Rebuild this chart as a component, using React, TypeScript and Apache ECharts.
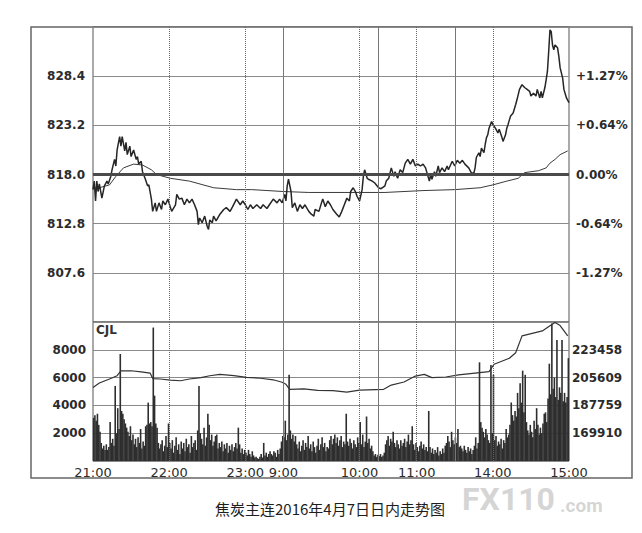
import React, { useEffect, useRef } from "react";
import * as echarts from "echarts";

// minutes since 21:00 (trading minutes: 21:00-23:30, 9:00-10:15, 10:30-11:30, 13:30-15:00)
const timeTicks = [0, 60, 120, 150, 210, 255, 315, 375];
const timeLabels = ["21:00", "22:00", "23:00", "9:00", "10:00", "11:00", "14:00", "15:00"];
const dottedMarks = [60, 120, 210, 255, 315];
const solidMarks = [150, 225, 285];

const PREV_SETTLE = 818.0;
const priceMin = 802.4;
const priceMax = 833.6;
const priceStep = 5.2;

const pricePoints: [number, number][] = [
  [0, 816.4], [1, 817.3], [2, 815.2], [3, 817.3], [4, 816.2], [5, 817.0], [7, 815.5], [9, 816.8],
  [11, 817.3], [12, 817.0], [14, 817.8], [15, 818.5], [17, 819.6], [18, 818.9], [19, 820.6], [21, 822.0],
  [22, 821.0], [23, 822.0], [25, 820.5], [26, 821.4], [27, 820.1], [29, 821.0], [30, 819.9], [32, 820.6],
  [34, 819.6], [35, 819.9], [36, 819.1], [38, 819.4], [39, 818.3], [41, 817.6], [43, 816.8], [44, 816.9],
  [46, 815.4], [47, 814.1], [49, 815.0], [50, 814.1], [52, 815.0], [54, 814.3], [55, 815.2], [57, 814.8],
  [59, 815.4], [61, 814.5], [62, 814.1], [65, 814.8], [66, 815.9], [68, 815.4], [70, 815.5], [72, 814.8],
  [74, 815.4], [76, 815.0], [78, 815.4], [80, 814.8], [82, 814.1], [83, 812.7], [84, 813.4], [86, 812.9],
  [88, 813.6], [90, 812.5], [91, 812.2], [92, 813.2], [94, 812.9], [95, 813.6], [97, 813.1], [100, 813.8],
  [103, 814.3], [105, 814.5], [108, 814.1], [110, 814.6], [113, 815.4], [116, 814.8], [118, 815.2], [120, 814.8],
  [122, 814.3], [124, 814.8], [126, 814.4], [129, 814.8], [132, 814.4], [134, 814.8], [137, 814.4], [139, 814.8],
  [142, 815.4], [145, 815.0], [147, 815.4], [149, 815.0], [151, 815.9], [152, 815.2], [153, 816.8], [154, 817.5],
  [156, 816.2], [157, 814.5], [159, 815.0], [161, 814.1], [163, 814.8], [165, 814.4], [167, 814.8], [170, 814.1],
  [172, 813.8], [174, 813.6], [175, 814.3], [178, 814.1], [180, 815.0], [181, 815.4], [183, 814.6], [185, 815.2],
  [187, 814.8], [189, 814.3], [192, 813.8], [194, 813.5], [196, 814.1], [198, 814.8], [200, 815.5], [202, 815.2],
  [203, 816.2], [205, 816.6], [207, 816.1], [208, 815.7], [210, 815.2], [212, 816.4], [213, 817.8], [214, 818.5],
  [216, 817.6], [217, 817.5], [220, 817.3], [222, 817.1], [225, 816.6], [227, 816.5], [230, 816.8], [231, 817.3],
  [233, 817.6], [235, 818.7], [237, 817.8], [238, 818.3], [240, 817.6], [242, 818.5], [244, 818.2], [246, 819.2],
  [248, 819.6], [250, 819.1], [252, 819.6], [254, 818.9], [256, 819.1], [258, 818.9], [260, 819.1], [262, 818.7],
  [265, 817.3], [266, 818.0], [267, 817.5], [269, 818.3], [270, 817.8], [272, 818.9], [273, 818.2], [275, 818.7],
  [277, 818.3], [279, 818.9], [280, 818.5], [283, 819.4], [285, 818.9], [287, 819.5], [289, 819.2], [291, 819.5],
  [293, 819.1], [296, 818.7], [298, 818.2], [300, 818.1], [301, 818.7], [302, 819.8], [304, 820.3], [305, 819.9],
  [306, 820.8], [308, 820.3], [309, 821.2], [310, 821.9], [311, 822.2], [312, 822.9], [314, 823.6], [315, 823.3],
  [317, 822.9], [319, 822.4], [320, 822.8], [322, 822.0], [323, 821.5], [325, 822.2], [326, 822.9], [327, 823.3],
  [329, 824.2], [331, 824.5], [333, 825.4], [334, 825.9], [336, 827.0], [338, 827.5], [340, 827.2], [342, 827.0],
  [344, 826.8], [345, 826.3], [347, 826.6], [349, 826.3], [350, 827.0], [352, 826.1], [353, 826.8], [354, 826.1],
  [356, 827.2], [357, 828.0], [358, 828.9], [359, 831.0], [360, 833.3], [361, 833.1], [362, 831.7], [363, 831.2],
  [364, 831.7], [366, 831.4], [367, 830.5], [368, 829.3], [370, 828.2], [371, 827.0], [373, 826.1], [375, 825.6],
];

const avgPoints: [number, number][] = [
  [0, 816.6], [5, 816.6], [13, 816.9], [18, 817.8], [24, 818.7], [32, 819.1], [39, 819.0], [46, 818.5],
  [50, 818.0], [61, 817.6], [76, 817.3], [95, 816.6], [113, 816.4], [125, 816.4], [150, 816.2], [170, 816.1],
  [210, 816.1], [230, 816.1], [260, 816.3], [285, 816.4], [305, 816.6], [315, 816.9], [326, 817.3], [335, 817.6],
  [340, 818.2], [351, 818.4], [357, 818.7], [360, 819.2], [364, 819.6], [368, 820.1], [374, 820.5],
];

// open interest (持仓量)
const oiPoints: [number, number][] = [
  [0, 199300], [5, 202100], [13, 204700], [19, 206800], [22, 209900], [30, 210000], [38, 209300], [45, 208500],
  [47, 205000], [53, 204700], [61, 204000], [69, 203600], [76, 204700], [85, 205600], [92, 206800], [100, 207700],
  [111, 206900], [121, 205800], [132, 205200], [142, 204200], [149, 202600], [152, 201300], [155, 198100], [166, 198400],
  [177, 197400], [189, 197200], [200, 196300], [210, 197600], [229, 198100], [235, 200800], [245, 202800], [254, 206600],
  [261, 207700], [267, 205600], [278, 206000], [288, 207300], [312, 209400], [316, 214200], [328, 218000], [333, 221600],
  [338, 232400], [354, 235600], [360, 238900], [364, 241000], [368, 239000], [374, 232400],
];
const oiMin = 152060;
const oiMax = 241308;
const oiStep = 17849.6;

// volume per minute (CJL)
const volumes: number[] = [
  3100, 3300, 2900, 3400, 2600, 2100, 1300, 900, 1100, 800,
  1200, 800, 1000, 2800, 1300, 1600, 1100, 5400, 2000, 3800,
  2300, 7700, 3600, 3400, 3000, 2700, 2400, 2100, 1800, 2500,
  1500, 1900, 1200, 1600, 1000, 1700, 1300, 2300, 900, 1400,
  1100, 2500, 2600, 4200, 2700, 2800, 2500, 9600, 4700, 2700,
  2400, 1300, 900, 1200, 1500, 700, 1100, 1800, 1000, 2700,
  1300, 900, 1500, 600, 1100, 1700, 800, 1200, 500, 1400,
  900, 1300, 700, 1600, 1000, 1200, 600, 1800, 1000, 1300,
  1500, 800, 2200, 5400, 2000, 1600, 1200, 2400, 1100, 1700,
  3400, 2600, 1500, 1900, 1100, 1400, 1800, 1900, 900, 1300,
  1000, 1400, 700, 1200, 900, 1300, 600, 1100, 800, 1200,
  700, 1000, 1300, 900, 2400, 1200, 600, 900, 500, 800,
  600, 400, 800, 500, 300, 700, 400, 250, 300, 200,
  150, 300, 500, 250, 1300, 400, 600, 300, 500, 700,
  500, 400, 700, 600, 300, 800, 500, 900, 1400, 1800,
  1700, 2900, 1500, 1900, 6200, 2200, 1600, 1900, 1400, 1800,
  1200, 900, 1400, 700, 1100, 1500, 800, 1300, 1000, 1800,
  900, 1200, 700, 1400, 1000, 600, 1100, 1600, 800, 1200,
  1700, 1000, 1300, 700, 1000, 900, 1500, 1800, 1200, 1600,
  1900, 1300, 1700, 1100, 1500, 1800, 1000, 1400, 1200, 3400,
  1400, 1100, 1600, 1300, 900, 1500, 1200, 1000, 1700, 1300,
  2800, 1200, 1900, 1000, 1400, 3200, 1300, 1600, 900, 1100,
  700, 400, 500, 300, 450, 350, 500, 300, 400, 600,
  1200, 1500, 1800, 1100, 1600, 1400, 2100, 1300, 1000, 1500,
  1200, 900, 1500, 1100, 1300, 1600, 1000, 1400, 1900, 1200,
  1500, 2500, 1200, 800, 1300, 1000, 700, 1100, 1400, 900,
  1200, 800, 1000, 700, 3600, 1000, 600, 900, 500, 800,
  600, 1000, 400, 700, 500, 900, 600, 1100, 1300, 1800,
  1400, 1000, 2100, 1500, 1200, 1700, 1300, 2300, 1000, 1100,
  900, 700, 1100, 800, 600, 1000, 700, 900, 500, 800,
  1100, 1700, 900, 1300, 7100, 2800, 2400, 2100, 1700, 2300,
  1900, 1500, 1300, 6900, 2000, 6200, 1500, 1800, 1100, 1400,
  1200, 1600, 900, 1500, 1300, 2300, 1700, 1900, 2600, 4200,
  3300, 2900, 3600, 3200, 4900, 3800, 5600, 4200, 6500, 3500,
  6200, 2800, 2200, 1900, 2600, 2100, 1700, 2900, 2300, 3800,
  2600, 1900, 2400, 2000, 2700, 3400, 3500, 2800, 4500, 7000,
  4800, 9900, 5200, 6000, 4600, 8700, 4400, 5300, 4900, 8700,
  4300, 4900, 4200, 4600, 7400,
];

const caption = "焦炭主连2016年4月7日日内走势图";

const FONT = "DejaVu Sans";
const TXT = "#2b2b2b";
const GRIDC = "#8a8a8a";

function verticalMarks() {
  return [
    ...dottedMarks.map((m) => ({ xAxis: m, lineStyle: { type: "dotted", color: "#666", width: 1 } })),
    ...solidMarks.map((m) => ({ xAxis: m, lineStyle: { type: "solid", color: "#777", width: 1 } })),
  ];
}

export default function App() {
  const ref = useRef<HTMLDivElement>(null);

  useEffect(() => {
    if (!ref.current) return;
    const chart = echarts.init(ref.current, null, { renderer: "svg" });

    const pctFmt = (v: number) => {
      const p = ((v - PREV_SETTLE) / PREV_SETTLE) * 100;
      if (Math.abs(p) < 0.001) return "0.00%";
      return (p > 0 ? "+" : "") + p.toFixed(2) + "%";
    };

    const option: any = {
      animation: false,
      backgroundColor: "#ffffff",
      grid: [
        { left: 93, top: 27, width: 476, height: 295, show: true, borderColor: "#555", borderWidth: 1 },
        { left: 93, top: 322, width: 476, height: 139, show: true, borderColor: "#555", borderWidth: 1 },
      ],
      xAxis: [
        {
          type: "value", gridIndex: 0, min: 0, max: 375,
          axisLine: { show: false }, axisTick: { show: false }, axisLabel: { show: false }, splitLine: { show: false },
        },
        {
          type: "value", gridIndex: 1, min: 0, max: 375,
          axisLine: { show: false }, axisTick: { show: false }, splitLine: { show: false },
          axisLabel: {
            customValues: timeTicks,
            formatter: (v: number) => {
              const i = timeTicks.indexOf(Math.round(v));
              return i >= 0 ? timeLabels[i] : "";
            },
            margin: 5, fontSize: 13, color: TXT, fontFamily: FONT,
            showMinLabel: true, showMaxLabel: true, hideOverlap: false,
          },
        },
      ],
      yAxis: [
        {
          type: "value", gridIndex: 0, min: priceMin, max: priceMax, interval: priceStep,
          axisLine: { show: false }, axisTick: { show: false },
          splitLine: { show: true, lineStyle: { color: GRIDC, width: 1 } },
          axisLabel: {
            formatter: (v: number) => v.toFixed(1),
            showMinLabel: false, showMaxLabel: false,
            margin: 8, fontSize: 12, fontWeight: "bold", color: TXT, fontFamily: FONT,
          },
        },
        {
          type: "value", gridIndex: 0, position: "right", min: priceMin, max: priceMax, interval: priceStep,
          axisLine: { show: false }, axisTick: { show: false }, splitLine: { show: false },
          axisLabel: {
            formatter: pctFmt,
            showMinLabel: false, showMaxLabel: false,
            margin: 7, fontSize: 12, fontWeight: "bold", color: TXT, fontFamily: FONT,
          },
        },
        {
          type: "value", gridIndex: 1, min: 0, max: 10000, interval: 2000,
          axisLine: { show: false }, axisTick: { show: false },
          splitLine: { show: true, lineStyle: { color: GRIDC, width: 1 } },
          axisLabel: {
            formatter: (v: number) => String(Math.round(v)),
            showMinLabel: false, showMaxLabel: false,
            margin: 7, fontSize: 12, fontWeight: "bold", color: TXT, fontFamily: FONT,
          },
        },
        {
          type: "value", gridIndex: 1, position: "right", min: oiMin, max: oiMax, interval: oiStep,
          axisLine: { show: false }, axisTick: { show: false }, splitLine: { show: false },
          axisLabel: {
            formatter: (v: number) => String(Math.round(v)),
            showMinLabel: false, showMaxLabel: false,
            margin: 3, fontSize: 12, fontWeight: "bold", color: TXT, fontFamily: FONT,
          },
        },
      ],
      series: [
        {
          name: "均价", type: "line", xAxisIndex: 0, yAxisIndex: 0,
          data: avgPoints, showSymbol: false, smooth: false,
          lineStyle: { color: "#3a3a3a", width: 1 },
          markLine: {
            silent: true, symbol: "none", label: { show: false },
            data: [
              ...verticalMarks(),
              { yAxis: PREV_SETTLE, lineStyle: { type: "solid", color: "#4a4a4a", width: 3 } },
            ],
          },
          z: 3,
        },
        {
          name: "价格", type: "line", xAxisIndex: 0, yAxisIndex: 0,
          data: pricePoints, showSymbol: false, smooth: false,
          lineStyle: { color: "#262626", width: 1.5 },
          z: 4,
        },
        {
          name: "成交量", type: "bar", xAxisIndex: 1, yAxisIndex: 2,
          data: volumes.map((v, i) => [i + 0.5, v]),
          barWidth: 1.6,
          itemStyle: { color: "#2e2e2e" },
          markLine: {
            silent: true, symbol: "none", label: { show: false },
            data: verticalMarks(),
          },
          z: 2,
        },
        {
          name: "持仓量", type: "line", xAxisIndex: 1, yAxisIndex: 3,
          data: oiPoints, showSymbol: false, smooth: false,
          lineStyle: { color: "#333", width: 1.2 },
          z: 4,
        },
      ],
      graphic: [
        {
          type: "rect", silent: true, z: 0,
          shape: { x: 31, y: 27, width: 601, height: 451 },
          style: { fill: "none", stroke: "#666", lineWidth: 1.5 },
        },
        {
          type: "text", left: 96, top: 324, z: 10,
          style: { text: "CJL", fill: "#333", font: `bold 12px "${FONT}"` },
        },
        {
          type: "text", x: 330, y: 508, z: 10,
          style: {
            text: caption, fill: "#1e1e1e", font: `15px "Noto Sans CJK SC"`,
            textAlign: "center", textVerticalAlign: "middle",
          },
        },
        {
          type: "text", x: 462, y: 499, z: 20,
          style: {
            text: "FX110", fill: "rgba(200,200,200,0.75)", font: `bold 32px Roboto`,
            textAlign: "left", textVerticalAlign: "middle",
          },
        },
        {
          type: "text", x: 560, y: 505, z: 20,
          style: {
            text: ".com", fill: "rgba(200,200,200,0.75)", font: `bold 19px Roboto`,
            textAlign: "left", textVerticalAlign: "middle",
          },
        },
      ],
    };

    chart.setOption(option);
    return () => chart.dispose();
  }, []);

  return (
    <div
      ref={ref}
      style={{ position: "fixed", left: 0, top: 0, width: 642, height: 533, background: "#fff" }}
    />
  );
}
